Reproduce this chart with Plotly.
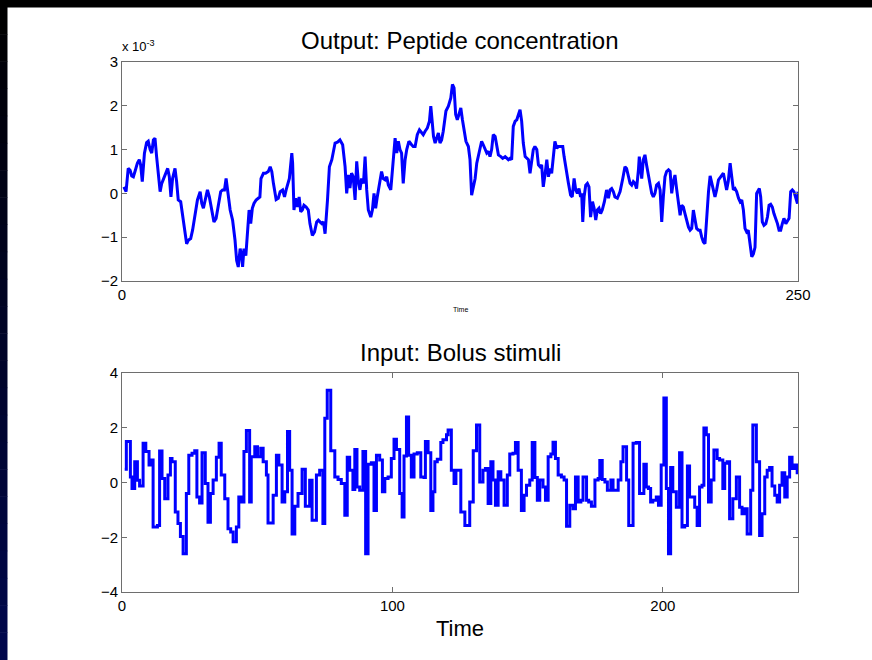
import plotly.graph_objects as go

# ---------------- data ----------------
# Output: peptide concentration (values in units of 1e-3)
out_t = [0.7, 1.5, 2.3, 3.0, 3.6, 4.2, 4.8, 5.7, 6.4, 6.9, 7.5, 8.3, 9.1, 9.7, 10.4, 11.0, 11.6, 12.2, 12.8, 13.4,
         14.1, 14.7, 15.9, 16.9, 17.5, 18.1, 18.7, 19.6, 20.2, 20.8, 21.7, 22.4, 23.3, 23.9, 24.5, 25.4, 26.1, 27.0,
         27.9, 28.9, 29.5, 30.1, 30.7, 31.6, 32.3, 33.2, 34.0, 34.8, 35.6, 36.5, 37.2, 37.9, 38.5, 39.3, 40.0, 40.9,
         41.8, 42.4, 43.0, 43.7, 44.3, 44.6, 45.1, 45.8, 46.4, 47.0, 47.6, 48.2, 48.8, 49.6, 50.4, 51.0, 51.4, 52.3,
         53.1, 54.1, 54.8, 55.4, 56.0, 57.0, 57.8, 58.5, 59.4, 60.1, 60.7, 61.3, 61.9, 62.8, 63.1, 63.6, 64.2, 64.9,
         65.5, 66.1, 66.7, 67.3, 68.1, 68.9, 69.5, 70.4, 71.2, 72.0, 72.6, 73.2, 73.9, 74.5, 75.1, 76.0, 76.7, 77.6,
         78.2, 78.8, 79.7, 80.6, 81.6, 82.5, 83.1, 83.7, 84.3, 84.9, 85.5, 86.2, 86.8, 87.4, 88.0, 88.6, 89.3, 89.9,
         90.5, 91.1, 92.0, 92.6, 93.2, 93.8, 94.4, 95.2, 96.0, 96.6, 97.3, 97.9, 98.5, 99.4, 100.0, 101.0, 101.6,
         102.2, 102.8, 103.4, 104.0, 104.7, 105.3, 106.1, 107.1, 107.7, 108.4, 109.2, 110.0, 110.8, 111.4, 112.1,
         112.9, 113.7, 114.2, 114.7, 115.2, 115.8, 116.4, 117.0, 117.6, 118.2, 118.8, 119.8, 120.7, 121.6, 122.2,
         122.8, 123.4, 124.0, 124.6, 125.3, 125.9, 126.5, 127.2, 128.1, 128.7, 129.3, 129.9, 130.6, 131.2, 132.2,
         133.0, 133.6, 134.3, 134.9, 135.5, 136.1, 136.7, 137.3, 138.0, 138.6, 139.2, 140.1, 140.8, 141.7, 142.3,
         142.9, 143.5, 144.1, 144.7, 145.4, 146.0, 146.6, 147.2, 147.8, 148.4, 149.1, 149.7, 150.3, 150.9, 151.5,
         152.1, 152.7, 153.4, 154.0, 154.6, 155.2, 155.8, 156.5, 157.1, 157.7, 158.3, 158.9, 159.5, 160.1, 160.8,
         161.4, 162.0, 163.0, 163.5, 164.2, 165.1, 165.9, 166.5, 167.2, 167.8, 168.4, 169.0, 169.6, 170.0, 170.4,
         170.9, 171.5, 172.1, 172.7, 173.3, 174.0, 174.6, 175.2, 175.8, 176.4, 177.0, 177.6, 178.4, 179.2, 179.9,
         180.5, 181.1, 181.7, 182.3, 183.2, 184.2, 185.2, 186.0, 186.6, 187.3, 187.9, 188.5, 189.1, 189.7, 190.3,
         191.0, 191.3, 191.8, 192.2, 192.8, 193.4, 194.0, 194.7, 195.3, 195.9, 196.5, 197.1, 197.7, 198.4, 199.0,
         199.6, 200.2, 200.8, 201.4, 202.1, 202.7, 203.3, 203.9, 204.5, 205.1, 205.8, 206.4, 207.0, 207.6, 208.2,
         208.8, 209.5, 210.1, 210.7, 211.3, 211.9, 212.5, 213.2, 213.8, 214.4, 215.0, 215.6, 216.2, 216.9, 217.5,
         218.1, 218.7, 219.3, 219.9, 220.6, 221.2, 221.8, 222.4, 223.0, 223.6, 224.2, 224.9, 225.5, 226.1, 226.7,
         227.3, 228.0, 228.6, 229.2, 229.8, 230.4, 231.0, 231.6, 232.3, 232.9, 233.5, 234.1, 234.7, 235.3, 235.7,
         236.2, 236.8, 237.4, 238.1, 238.7, 239.3, 239.9, 240.5, 241.1, 241.8, 242.4, 243.0, 243.6, 244.2, 244.8,
         245.5, 246.1, 246.7, 247.3, 247.9, 248.5, 249.2, 249.8, 250.0]
out_v = [0.15, 0.04, 0.57, 0.53, 0.40, 0.38, 0.50, 0.69, 0.77, 0.65, 0.27, 0.92, 1.16, 1.19, 1.00, 0.92, 1.22, 1.26,
         0.84, 0.46, 0.04, 0.23, 0.40, 0.57, 0.38, -0.08, 0.34, 0.57, 0.27, -0.15, -0.19, -0.50, -0.92, -1.15, -1.07,
         -1.03, -0.84, -0.46, -0.15, 0.04, -0.23, -0.34, -0.15, 0.08, -0.08, -0.38, -0.65, -0.57, -0.31, 0.04, 0.08,
         0.08, 0.34, 0.00, -0.38, -0.61, -1.07, -1.53, -1.68, -1.26, -1.45, -1.68, -1.26, -1.42, -0.84, -0.38, -0.69,
         -0.34, -0.23, -0.15, -0.11, -0.08, 0.34, 0.46, 0.46, 0.50, 0.61, 0.50, 0.23, -0.14, -0.11, 0.04, 0.08, -0.08,
         0.08, 0.19, 0.34, 0.92, 0.69, -0.38, -0.11, -0.31, -0.08, -0.42, -0.38, -0.27, -0.31, -0.38, -0.69, -0.96,
         -0.88, -0.65, -0.61, -0.65, -0.69, -0.65, -0.92, -0.15, 0.61, 0.77, 0.96, 1.15, 1.17, 1.22, 1.11, 0.61, 0.00,
         0.42, 0.12, 0.46, 0.38, -0.15, 0.73, 0.27, 0.08, 0.34, 0.23, 0.84, 0.08, -0.38, -0.54, -0.38, 0.00, -0.34,
         -0.08, 0.23, 0.50, 0.34, 0.31, 0.38, 0.19, 0.08, 0.61, 1.26, 0.92, 1.19, 1.00, 0.92, 0.23, 0.77, 1.00, 1.19,
         1.11, 1.07, 1.07, 1.34, 1.45, 1.38, 1.34, 1.42, 1.49, 1.65, 1.99, 1.65, 1.30, 1.15, 1.30, 1.38, 1.15, 1.22,
         1.42, 1.88, 1.99, 2.18, 2.49, 2.41, 1.80, 1.68, 1.80, 1.95, 1.68, 1.42, 1.19, 1.07, 0.77, -0.04, 0.15, 0.34,
         0.69, 1.00, 1.19, 1.11, 1.00, 0.92, 0.96, 0.84, 1.00, 1.34, 1.30, 1.07, 0.88, 0.84, 0.80, 0.84, 0.80, 0.77,
         0.80, 0.77, 1.53, 1.65, 1.68, 1.80, 1.91, 1.65, 1.15, 0.84, 0.80, 0.77, 0.46, 0.77, 1.00, 1.07, 1.00, 0.65,
         0.61, 0.65, 0.15, 0.46, 0.77, 0.38, 0.57, 0.46, 0.84, 1.19, 1.03, 1.07, 1.07, 1.07, 0.84, 0.54, 0.23, -0.04,
         -0.08, 0.34, 0.08, 0.00, 0.11, -0.08, 0.00, -0.65, -0.08, 0.19, 0.23, 0.15, -0.54, -0.19, -0.34, -0.61,
         -0.38, -0.34, -0.46, -0.38, -0.19, 0.08, -0.11, 0.08, 0.11, 0.04, -0.08, -0.11, 0.04, 0.34, 0.61, 0.57, 0.42,
         0.23, 0.19, 0.27, 0.23, 0.11, 0.54, 0.84, 0.57, 0.34, 0.77, 0.88, 0.65, 0.38, 0.15, 0.00, -0.08, 0.00, 0.19,
         0.23, 0.08, -0.65, -0.08, 0.38, 0.50, 0.54, 0.50, 0.00, 0.27, 0.42, 0.11, -0.23, -0.50, -0.27, -0.31, -0.46,
         -0.61, -0.77, -0.84, -0.80, -0.38, -0.65, -0.80, -0.84, -0.84, -1.00, -1.11, -1.15, -0.54, 0.04, 0.40, 0.23,
         0.04, -0.08, 0.08, 0.31, 0.36, 0.42, 0.46, 0.27, 0.08, 0.27, 0.69, 0.38, 0.08, 0.11, 0.04, -0.11, -0.19,
         -0.15, -0.38, -0.80, -0.88, -0.84, -1.15, -1.45, -1.38, -1.23, 0.00, 0.08, 0.11, -0.08, -0.65, -0.73, -0.69,
         -0.54, -0.27, -0.25, -0.31, -0.46, -0.57, -0.69, -0.84, -0.84, -0.69, -0.57, -0.69, -0.61, -0.57, 0.04, 0.08,
         0.04, -0.11, -0.23, 0.04]
out_exponent = -3

# Input: bolus stimuli (step signal; value held from each time until the next)
in_t = [1.0, 1.6, 3.1, 3.7, 4.7, 5.7, 6.5, 7.8, 8.8, 10.0, 10.6, 11.5, 13.1, 13.9, 14.8, 15.8, 17.0, 17.9, 18.5,
        19.7, 20.7, 21.6, 22.6, 23.8, 24.7, 25.9, 26.9, 27.7, 28.7, 29.6, 30.8, 31.8, 32.7, 33.7, 34.9, 35.9, 36.7,
        38.0, 39.2, 40.2, 41.1, 42.3, 43.2, 44.1, 45.1, 46.0, 47.2, 47.8, 49.1, 50.1, 51.3, 52.2, 53.4, 54.0, 55.9,
        57.1, 58.0, 59.2, 60.2, 61.2, 62.0, 62.9, 63.9, 65.1, 66.6, 67.8, 69.4, 70.3, 71.9, 73.1, 74.3, 75.0, 75.9,
        77.2, 78.7, 79.9, 81.1, 82.4, 83.3, 84.2, 85.4, 86.1, 86.9, 87.9, 89.1, 90.1, 91.0, 92.2, 93.2, 94.1, 95.3,
        96.3, 97.2, 98.4, 99.6, 100.6, 101.5, 102.7, 103.6, 104.3, 105.2, 106.0, 107.0, 108.0, 109.2, 110.5, 111.7,
        112.2, 113.2, 114.2, 115.0, 115.7, 116.6, 117.9, 118.7, 120.0, 120.6, 121.8, 122.8, 123.5, 125.3, 126.8,
        128.6, 129.9, 131.1, 132.3, 133.5, 134.4, 135.4, 136.4, 137.2, 138.1, 139.1, 140.1, 141.3, 142.5, 143.4,
        144.6, 145.5, 146.5, 147.7, 148.7, 149.6, 150.8, 151.7, 152.7, 153.6, 154.5, 155.7, 156.6, 157.6, 158.6,
        159.4, 160.3, 161.3, 162.5, 163.5, 164.4, 165.6, 166.8, 167.7, 168.7, 169.7, 170.5, 171.8, 172.6, 173.6,
        174.9, 176.1, 176.7, 177.6, 178.6, 179.5, 180.8, 181.6, 183.5, 184.5, 185.3, 186.6, 187.4, 189.0, 190.2,
        191.4, 193.0, 193.9, 194.7, 195.5, 196.3, 197.6, 198.4, 199.4, 200.4, 201.3, 202.1, 202.9, 203.7, 205.0,
        206.2, 207.1, 208.1, 209.1, 209.9, 211.8, 212.7, 213.6, 214.5, 215.2, 216.1, 216.9, 217.9, 218.9, 220.1,
        221.0, 222.2, 222.9, 223.8, 224.7, 225.9, 227.2, 228.4, 229.3, 230.3, 231.2, 232.5, 233.3, 234.6, 235.8,
        236.7, 237.7, 238.6, 239.5, 240.4, 241.4, 242.3, 243.2, 244.1, 245.1, 246.0, 246.9, 247.8, 248.8, 249.7,
        250.0]
in_v = [0.48, 1.50, 0.20, -0.22, 0.76, 0.08, -0.13, 1.43, 1.13, 0.64, 0.82, -1.63, -1.57, 1.15, 0.15, -0.59, 0.27,
        0.88, 0.76, -1.08, -1.50, -1.97, -2.60, -0.40, 1.00, 1.07, 1.16, -0.53, -0.75, 1.09, -0.04, -1.45, -0.40,
        0.09, 0.92, 1.43, 0.27, -0.59, -1.69, -1.81, -2.16, -1.63, -0.53, -0.71, 1.13, 1.90, -0.71, 0.94, 1.31, 0.94,
        1.25, 0.76, 0.27, -1.48, -0.47, 1.00, 0.64, -0.71, -0.34, 1.86, 0.45, -1.88, -0.87, -0.40, 0.48, -0.87, 0.08,
        -1.38, 0.27, 0.45, -1.50, 2.35, 3.37, 1.16, 0.20, 0.11, -0.04, -1.20, 0.92, 0.45, -0.26, 1.21, -0.16, -0.28,
        1.13, -2.60, 0.67, 0.72, -1.02, 1.00, 0.82, -0.34, 0.15, 0.20, 0.88, 1.58, 1.21, -0.40, -1.26, 0.97, 2.39,
        1.00, 0.20, 1.04, 1.09, 0.20, 0.18, 1.50, 1.09, -1.02, -0.34, 0.76, 0.85, 1.46, 1.56, 1.74, 1.92, 0.45, -0.04,
        0.45, -1.08, -1.57, -0.71, 1.16, 2.10, 0.02, 0.45, 0.51, -0.77, 0.76, 0.09, -0.83, 0.39, 0.09, -0.83, 0.27,
        1.04, 1.07, 1.46, 0.45, -1.02, -0.47, -0.10, 0.09, 1.46, 0.18, -0.65, 0.09, -0.16, -0.65, 0.94, 1.04, 1.47,
        0.88, 0.27, 0.20, 0.09, -1.60, -0.83, -0.96, 0.20, -0.71, -0.65, 0.20, -0.65, -0.71, -0.87, 0.09, 0.15, 0.80,
        0.11, 0.02, -0.28, 0.09, -0.28, 0.09, 0.76, 1.31, 0.09, -1.57, 1.43, 1.46, -0.40, 0.67, -0.16, -0.22, -0.71,
        -0.65, -0.53, -0.83, 0.64, 3.09, -0.22, -2.60, 0.55, -0.34, -0.90, 1.09, -1.63, -1.57, 0.60, -0.53, -0.90,
        -1.57, -0.16, -0.10, 1.99, 1.74, -0.71, 0.09, 1.19, 0.88, 0.82, -0.22, 0.70, 0.76, -1.32, -0.59, 0.20, -0.90,
        -1.14, -0.96, -1.88, -0.28, 2.10, 0.76, -1.94, -1.14, 0.20, 0.45, 0.55, -0.13, -0.47, -0.71, -0.10, 0.36,
        -0.53, 0.20, 0.92, 0.51, 0.64, 0.36, 0.36]

top_title = "Output: Peptide concentration"
bottom_title = "Input: Bolus stimuli"
x_label = "Time"
top_xticks = [0, 250]
bottom_xticks = [0, 100, 200]
top_yticks = [-2, -1, 0, 1, 2, 3]
bottom_yticks = [-4, -2, 0, 2, 4]

# ---------------- layout helpers ----------------
W, H = 872, 660
ML, MR, MT, MB = 122, 74, 62, 68
PW, PH = W - ML - MR, H - MT - MB


def px_x(p):
    return (p - ML) / PW


def px_y(p):
    return (H - MB - p) / PH


FONT = "Liberation Sans, Arial, Helvetica, sans-serif"
LINE_BLUE = "#0000FF"
AX = "#6e6e6e"

fig = go.Figure()
fig.add_trace(go.Scatter(x=out_t, y=out_v, mode="lines", xaxis="x", yaxis="y",
                         line=dict(color=LINE_BLUE, width=3), showlegend=False))
fig.add_trace(go.Scatter(x=in_t, y=in_v, mode="lines", xaxis="x2", yaxis="y2",
                         line=dict(color=LINE_BLUE, width=3, shape="hv"), showlegend=False))

axis_common = dict(showline=True, linecolor=AX, linewidth=1, mirror="allticks", ticks="inside",
                   ticklen=5, tickcolor=AX, showgrid=False, zeroline=False,
                   tickfont=dict(family=FONT, size=15, color="#000"))

top_dom = [px_y(281), 1.0]
bot_dom = [0.0, px_y(373)]

fig.update_layout(
    width=W, height=H,
    margin=dict(l=ML, r=MR, t=MT, b=MB),
    paper_bgcolor="white", plot_bgcolor="white",
    xaxis=dict(domain=[0, 1], anchor="y", range=[0, 250], tickvals=top_xticks, **axis_common),
    yaxis=dict(domain=top_dom, anchor="x", range=[-2, 3], tickvals=top_yticks, **axis_common),
    xaxis2=dict(domain=[0, 1], anchor="y2", range=[0, 250], tickvals=bottom_xticks, **axis_common),
    yaxis2=dict(domain=bot_dom, anchor="x2", range=[-4, 4], tickvals=bottom_yticks, **axis_common),
)

annotations = [
    dict(text=top_title, x=0.5, y=px_y(40), font=dict(family=FONT, size=24, color="#000")),
    dict(text=bottom_title, x=0.5, y=px_y(352), font=dict(family=FONT, size=24, color="#000")),
    dict(text="x 10<sup>%d</sup>" % out_exponent, x=px_x(120), y=px_y(46), xanchor="left",
         font=dict(family=FONT, size=13, color="#000")),
    dict(text=x_label, x=0.5, y=px_y(309), font=dict(family=FONT, size=7, color="#000")),
    dict(text=x_label, x=0.5, y=px_y(628), font=dict(family=FONT, size=22, color="#000")),
]
for a in annotations:
    a.update(xref="paper", yref="paper", showarrow=False)
    a.setdefault("xanchor", "center")
    a["yanchor"] = "middle"
fig.update_layout(annotations=annotations)

# slide frame: black top band and dark-blue gradient strip on the left
shapes = [dict(type="rect", xref="paper", yref="paper", x0=px_x(0), x1=px_x(W), y0=px_y(7.5), y1=px_y(0),
               fillcolor="black", line=dict(width=0), layer="above")]
n_bands = 24
for i in range(n_bands):
    y_top = 7.5 + (H - 7.5) * i / n_bands
    y_bot = 7.5 + (H - 7.5) * (i + 1) / n_bands
    f = (i + 0.5) / n_bands
    col = "rgb(0,%d,%d)" % (int(8 * f), int(78 * f))
    shapes.append(dict(type="rect", xref="paper", yref="paper", x0=px_x(0), x1=px_x(7.5),
                       y0=px_y(y_bot), y1=px_y(y_top) + 0.001, fillcolor=col, line=dict(width=0), layer="above"))
fig.update_layout(shapes=shapes)

fig.write_html("out.html")
